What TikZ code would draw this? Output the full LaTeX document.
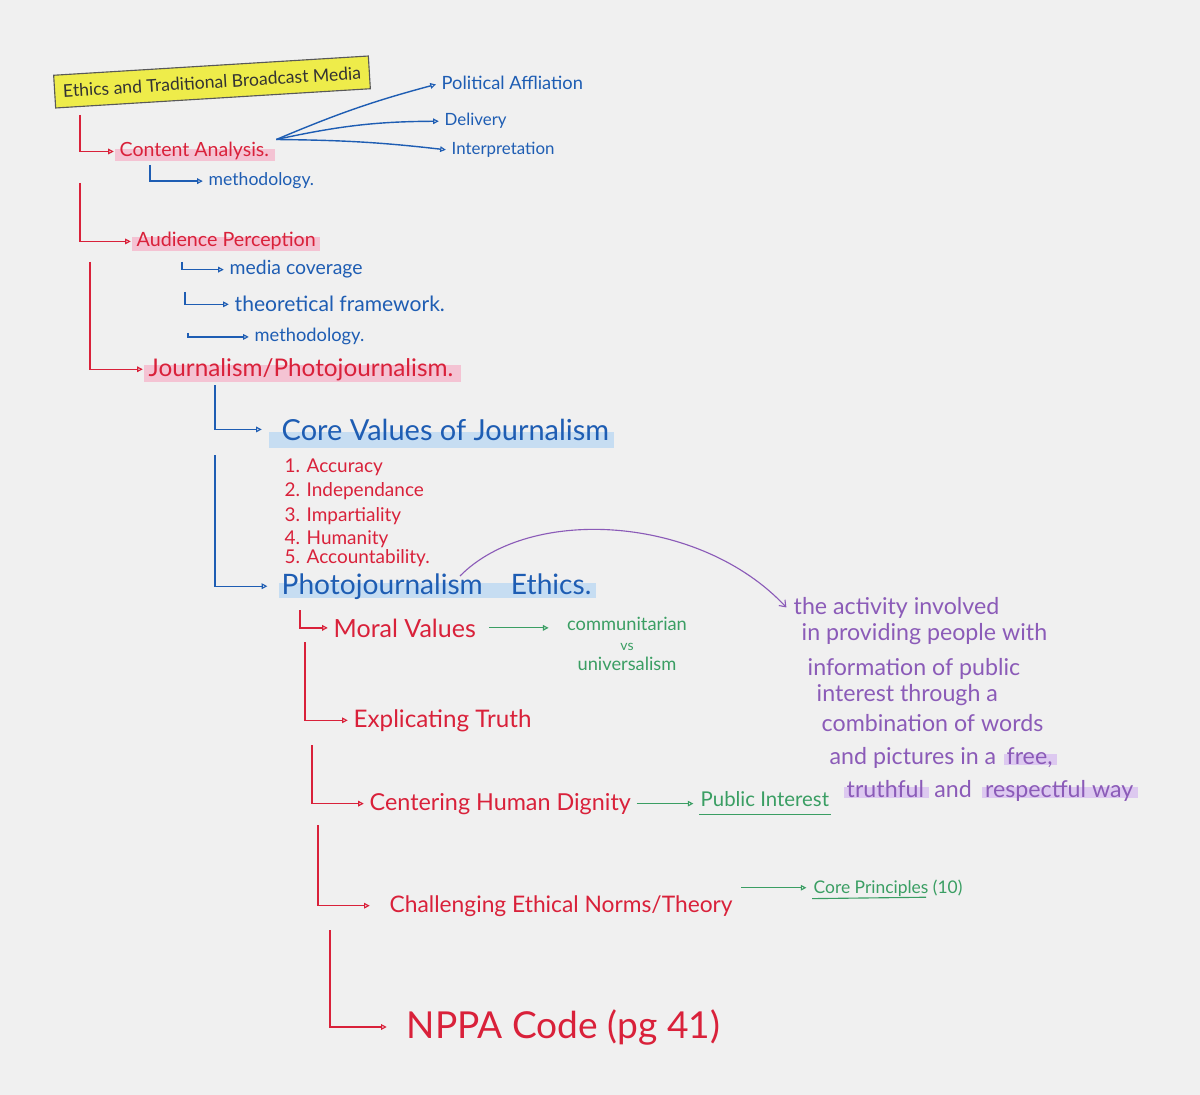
\documentclass[tikz,border=0pt]{standalone}
\usepackage{fontspec}
\setmainfont{Lato}
\usetikzlibrary{arrows.meta,positioning,backgrounds,calc}
\definecolor{bg}{HTML}{F0F0F0}
\definecolor{rd}{HTML}{D9213A}
\definecolor{bl}{HTML}{1E5DB3}
\definecolor{gr}{HTML}{3A9E63}
\definecolor{pu}{HTML}{8B5BB8}
\definecolor{pinkhl}{HTML}{F4C3D3}
\definecolor{bluehl}{HTML}{C6DDF2}
\definecolor{purphl}{HTML}{DDC9F0}
\definecolor{yel}{HTML}{EEEC4A}
\newcommand\fsz[1]{\fontsize{#1}{#1}\selectfont}
\tikzset{
 lab/.style={inner sep=1pt, anchor=base west},
 rt/.style={lab, text=rd},
 bt/.style={lab, text=bl},
 gt/.style={lab, text=gr},
 ptx/.style={lab, text=pu, font={\fsz{16.5}}},
 hd/.style={-{Triangle[open,length=4pt,width=4pt,line width=0.8pt]}},
 rl/.style={draw=rd, line width=1pt, hd, shorten >=3pt},
 bln/.style={draw=bl, line width=1pt, hd, shorten >=3pt},
 gln/.style={draw=gr, line width=0.8pt, hd},
 titlebox/.style={draw=black!65, line width=0.8pt, fill=yel, rotate=3.5, inner xsep=6pt, inner ysep=7pt, text=black!80, font={\fsz{12.5}}},
}
\begin{document}
\begin{tikzpicture}[x=0.025cm,y=-0.025cm]
\useasboundingbox (0,0) rectangle (1200,1095);
\begin{pgfonlayer}{background}
\fill[bg] (0,0) rectangle (1200,1095);
\end{pgfonlayer}

% title
\node[titlebox] (title) at (212,82) {Ethics and Traditional Broadcast Media};

% Content analysis
\node[rt, font={\fsz{13.9}}] (ca) at (118,157) {Content Analysis.};
\node[bt, font={\fsz{13}}] (pa) at (440,90) {Political Affliation};
\node[bt, font={\fsz{12}}] (dl) at (443,126) {Delivery};
\node[bt, font={\fsz{12}}] (ip) at (450,155) {Interpretation};
\node[bt, font={\fsz{12.5}}] (m1) at (207,186) {methodology.};

% Audience perception
\node[rt, font={\fsz{14}}] (ap) at (135,247) {Audience Perception};
\node[bt, font={\fsz{13.8}}] (mc) at (228,275) {media coverage};
\node[bt, font={\fsz{15}}] (tf) at (233,312) {theoretical framework.};
\node[bt, font={\fsz{13}}] (m2) at (253,342) {methodology.};

% Journalism
\node[rt, font={\fsz{17.3}}] (jp) at (147,376) {Journalism/Photojournalism.};
\node[bt, font={\fsz{20.6}}] (cv) at (280,440) {Core Values of Journalism};
\node[rt, font={\fsz{13.5}}] (l1) at (283,472) {1. Accuracy};
\node[rt, font={\fsz{13.5}}] (l2) at (283,496) {2. Independance};
\node[rt, font={\fsz{13.5}}] (l3) at (283,521) {3. Impartiality};
\node[rt, font={\fsz{13.5}}] (l4) at (283,544) {4. Humanity};
\node[rt, font={\fsz{13.5}}] (l5) at (283,563) {5. Accountability.};
\node[bt, font={\fsz{20}}] (pe) at (280,594) {Photojournalism\quad Ethics.};

% Photojournalism ethics branches
\node[rt, font={\fsz{17.8}}] (mv) at (332,637) {Moral Values};
\node[gt, font={\fsz{13}}, anchor=base] (cm1) at (627,630) {communitarian};
\node[gt, font={\fsz{10}}, anchor=base] (cm2) at (627,650) {vs};
\node[gt, font={\fsz{13}}, anchor=base] (cm3) at (627,670) {universalism};
\node[rt, font={\fsz{17.2}}] (et) at (352,727) {Explicating Truth};
\node[rt, font={\fsz{16.6}}] (ch) at (368,810) {Centering Human Dignity};
\node[gt, font={\fsz{14.5}}] (pi) at (699,806) {Public Interest};
\node[rt, font={\fsz{16.2}}] (cen) at (388,912) {Challenging Ethical Norms/Theory};
\node[gt, font={\fsz{12.4}}] (cp) at (812,893) {Core Principles (10)};
\node[rt, font={\fsz{26.4}}] (nppa) at (405,1038) {NPPA Code (pg 41)};

% definition (purple)
\node[ptx] (d1) at (792,614) {the activity involved};
\node[ptx] (d2) at (800,640) {in providing people with};
\node[ptx] (d3) at (806,675) {information of public};
\node[ptx] (d4) at (815,701) {interest through a};
\node[ptx] (d5) at (820,731) {combination of words};
\node[ptx] (d6) at (828,764) {and pictures in a};
\node[ptx, base right=5pt of d6] (d6b) {free,};
\node[ptx] (d7) at (845,797) {truthful};
\node[ptx, base right=5pt of d7] (d7b) {and};
\node[ptx, base right=7pt of d7b] (d7c) {respectful way};

% highlights
\begin{pgfonlayer}{background}
\fill[pinkhl] ([shift={(-2pt,-3pt)}]ca.base west) rectangle ([shift={(3pt,6pt)}]ca.base east);
\fill[pinkhl] ([shift={(-2pt,-3pt)}]ap.base west) rectangle ([shift={(2pt,7pt)}]ap.base east);
\fill[pinkhl] ([shift={(-2pt,-4pt)}]jp.base west) rectangle ([shift={(4pt,8pt)}]jp.base east);
\fill[bluehl] ([shift={(-8pt,-6pt)}]cv.base west) rectangle ([shift={(2pt,6pt)}]cv.base east);
\fill[bluehl] ([shift={(-1pt,-3pt)}]pe.base west) rectangle ([shift={(2pt,8pt)}]pe.base east);
\fill[purphl] ([shift={(-1pt,-1pt)}]d6b.base west) rectangle ([shift={(2pt,7pt)}]d6b.base east);
\fill[purphl] ([shift={(-1pt,-1pt)}]d7.base west) rectangle ([shift={(2pt,7pt)}]d7.base east);
\fill[purphl] ([shift={(-1pt,-1pt)}]d7c.base west) rectangle ([shift={(2pt,7pt)}]d7c.base east);
\end{pgfonlayer}

% L-connectors
\coordinate (v1) at (80,115);
\coordinate (v2) at (150,165);
\coordinate (v3) at (80,183);
\coordinate (v4) at (182,262);
\coordinate (v5) at (185,292);
\coordinate (v6) at (188,333);
\coordinate (v7) at (90,262);
\coordinate (v8) at (215,385);
\coordinate (v9) at (215,455);
\coordinate (v10) at (300,610);
\coordinate (v11) at (305,642);
\coordinate (v12) at (312,745);
\coordinate (v13) at (318,825);
\coordinate (v14) at (330,930);
\draw[rl] (v1) |- (ca.west);
\draw[bln] (v2) |- (m1.west);
\draw[rl] (v3) |- (ap.west);
\draw[bln] (v4) |- (mc.west);
\draw[bln] (v5) |- (tf.west);
\draw[bln] (v6) |- (m2.west);
\draw[rl] (v7) |- (jp.west);
\draw[bln] (v8) |- ([xshift=-10pt]cv.west);
\draw[bln] (v9) |- ([xshift=-6pt]pe.west);
\draw[rl] (v10) |- (mv.west);
\draw[rl] (v11) |- (et.west);
\draw[rl] (v12) |- (ch.west);
\draw[rl] (v13) |- ([xshift=-10pt]cen.west);
\draw[rl] (v14) |- ([xshift=-10pt]nppa.west);

% fan from content analysis
\draw[bln] ([shift={(4pt,1pt)}]ca.north east) to[bend left=4] (pa.west);
\draw[bln] ([shift={(4pt,1pt)}]ca.north east) to[bend left=6] (dl.west);
\draw[bln] ([shift={(4pt,1pt)}]ca.north east) to[bend left=3] (ip.west);

% green arrows
\draw[gln, shorten <=8pt, shorten >=12pt] (mv.east) -- (mv.east -| cm1.west);
\draw[gln, shorten <=3pt, shorten >=4pt] (ch.east) -- (ch.east -| pi.west);
\draw[gln, shorten <=5pt, shorten >=4pt] (cen.east |- cp.west) -- (cp.west);
\draw[gr, line width=0.8pt] ([yshift=-6pt]pi.base west) -- ([yshift=-6pt]pi.base east);
\draw[gr, line width=0.8pt] ([yshift=-4pt]cp.base west) -- ([shift={(-27pt,-3pt)}]cp.base east);

% purple curve
\coordinate (pcs) at (460,576);
\draw[pu, line width=0.8pt, -{Straight Barb[length=4pt,width=6pt]}] (pcs) .. controls (530,505) and (700,515) .. ([xshift=-4pt]d1.west);
\end{tikzpicture}
\end{document}
